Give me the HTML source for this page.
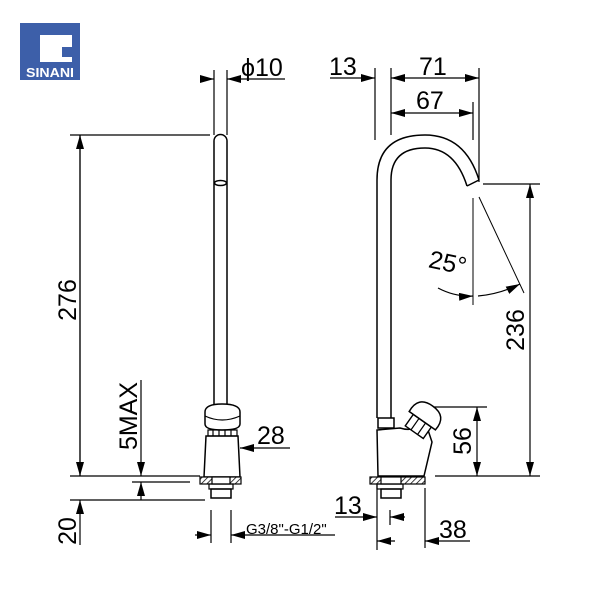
<!DOCTYPE html>
<html><head><meta charset="utf-8"><style>
html,body{margin:0;padding:0;background:#fff;}
svg{display:block}
text{font-family:"Liberation Sans",Arial,sans-serif;fill:#000}
</style></head><body>
<svg width="600" height="600" viewBox="0 0 600 600" xmlns="http://www.w3.org/2000/svg">
<defs>
<marker id="b" viewBox="0 0 14 8" refX="14" refY="4" markerWidth="14" markerHeight="8" orient="auto-start-reverse" markerUnits="userSpaceOnUse"><path d="M0,0L14,4L0,8z" fill="#000"/></marker>
<pattern id="h" width="4" height="4" patternUnits="userSpaceOnUse" patternTransform="rotate(45)"><rect width="4" height="4" fill="#fff"/><line x1="0" y1="0" x2="0" y2="4" stroke="#000" stroke-width="1.5"/></pattern>
</defs>
<rect x="20" y="23" width="60" height="57" fill="#3d5fa9"/>
<path d="M40,35 H72 V47 H62 V57 H72 V62 H40 Z" fill="#fff"/>
<text x="50" y="77" font-size="13" font-weight="bold" text-anchor="middle" style="fill:#fff" textLength="48" lengthAdjust="spacingAndGlyphs">SINANI</text>

<g stroke="#000" stroke-width="1.2" fill="none">
<line x1="214" y1="70" x2="214" y2="135"/><line x1="227" y1="70" x2="227" y2="135"/>
<line x1="200" y1="79" x2="214" y2="79" marker-end="url(#b)"/>
<line x1="285" y1="79" x2="227" y2="79" marker-end="url(#b)"/>
<path d="M214,405 V141 A6.5,6.5 0 0 1 227,141 V405" stroke-width="1.5"/>
<ellipse cx="220.5" cy="183" rx="6" ry="2.5" stroke-width="1.5"/>
<line x1="70" y1="135" x2="210" y2="135"/>
<line x1="80" y1="476" x2="80" y2="135" marker-end="url(#b)"/>
<line x1="80" y1="135" x2="80" y2="476" marker-end="url(#b)"/>
<line x1="70" y1="476" x2="200" y2="476"/>
<line x1="70" y1="500" x2="205" y2="500"/>
<line x1="80" y1="545" x2="80" y2="500" marker-end="url(#b)"/>
<line x1="141" y1="380" x2="141" y2="476" marker-end="url(#b)"/>
<line x1="132" y1="482" x2="190" y2="482"/>
<line x1="141" y1="500" x2="141" y2="482" marker-end="url(#b)"/>
<path d="M205,412 Q205,404 222,404 Q240,404 240,412 V424 Q240,430 222,430 Q205,430 205,424 Z" stroke-width="1.5" fill="#fff"/>
<path d="M205,416 Q222,424 240,416" />
<rect x="208" y="430" width="29" height="6" stroke-width="1.2"/>
<line x1="213" y1="430" x2="213" y2="436"/><line x1="219" y1="430" x2="219" y2="436"/><line x1="225" y1="430" x2="225" y2="436"/><line x1="231" y1="430" x2="231" y2="436"/>
<path d="M206,436 L204,477 H240 L238,436 Z" stroke-width="1.5"/>
<rect x="200" y="477" width="41" height="7" fill="url(#h)" stroke-width="1.2"/>
<rect x="212" y="477" width="18" height="7" fill="#fff"/>
<rect x="209" y="484" width="24" height="5"/>
<rect x="211" y="489" width="20" height="9" stroke-width="1.5"/>
<line x1="290" y1="448" x2="240" y2="448" marker-end="url(#b)"/>
<line x1="211" y1="510" x2="211" y2="543"/><line x1="231" y1="510" x2="231" y2="543"/>
<line x1="195" y1="535" x2="211" y2="535" marker-end="url(#b)"/>
<line x1="335" y1="535" x2="231" y2="535" marker-end="url(#b)"/>

<line x1="375" y1="68" x2="375" y2="140"/><line x1="391" y1="68" x2="391" y2="135"/>
<line x1="479" y1="68" x2="479" y2="182"/><line x1="473" y1="102" x2="473" y2="140"/>
<line x1="330" y1="78" x2="375" y2="78" marker-end="url(#b)"/>
<line x1="420" y1="78" x2="391" y2="78" marker-end="url(#b)"/>
<line x1="420" y1="78" x2="479" y2="78" marker-end="url(#b)"/>
<line x1="430" y1="113" x2="391" y2="113" marker-end="url(#b)"/>
<line x1="430" y1="113" x2="473" y2="113" marker-end="url(#b)"/>
<path d="M377,418 V180 Q377,135 425,135 Q465,135 479,180" stroke-width="1.5"/>
<path d="M391,418 V180 Q391,148 425,148 Q455,148 467,186" stroke-width="1.5"/>
<path d="M467,186 L479,180" stroke-width="1.5"/>
<line x1="483" y1="184" x2="540" y2="184"/>
<line x1="435" y1="476" x2="540" y2="476"/>
<line x1="530" y1="330" x2="530" y2="184" marker-end="url(#b)"/>
<line x1="530" y1="330" x2="530" y2="476" marker-end="url(#b)"/>
<line x1="473" y1="198" x2="473" y2="305" stroke-width="1"/>
<line x1="479" y1="197" x2="524" y2="293" stroke-width="1"/>
<path d="M438,288 Q455,297 473,296" marker-end="url(#b)"/>
<path d="M478,296 Q500,294 520,284" marker-end="url(#b)"/>
<line x1="425" y1="407" x2="487" y2="407"/>
<line x1="477" y1="440" x2="477" y2="407" marker-end="url(#b)"/>
<line x1="477" y1="440" x2="477" y2="476" marker-end="url(#b)"/>
<rect x="378" y="418" width="16" height="10" stroke-width="1.5"/>
<path d="M377,430 L378,476 H424 L432,442 L426,424 Q412,432 400,428 Z" stroke-width="1.5" fill="#fff"/>
<g transform="rotate(35 420 424)">
<rect x="409" y="420" width="22" height="14" stroke-width="1.4" fill="#fff"/>
<line x1="416" y1="420" x2="416" y2="434"/><line x1="424" y1="420" x2="424" y2="434"/>
<path d="M404,420 Q402,402 420,402 Q438,402 436,420 Z" stroke-width="1.5" fill="#fff"/>
</g>
<rect x="370" y="477" width="55" height="7" fill="url(#h)" stroke-width="1.2"/>
<rect x="381" y="477" width="20" height="7" fill="#fff"/>
<rect x="377" y="484" width="26" height="5"/>
<rect x="381" y="489" width="20" height="9" stroke-width="1.5"/>
<line x1="377" y1="485" x2="377" y2="550"/><line x1="390" y1="510" x2="390" y2="525"/>
<line x1="425" y1="488" x2="425" y2="548"/>
<line x1="335" y1="517" x2="377" y2="517" marker-end="url(#b)"/>
<line x1="405" y1="517" x2="390" y2="517" marker-end="url(#b)"/>
<line x1="395" y1="541" x2="377" y2="541" marker-end="url(#b)"/>
<line x1="470" y1="541" x2="425" y2="541" marker-end="url(#b)"/>
</g>

<g font-size="25">
<text x="241" y="76">ϕ10</text>
<text x="329" y="75">13</text>
<text x="419" y="75">71</text>
<text x="416" y="109">67</text>
<text x="257" y="444">28</text>
<text x="334" y="514">13</text>
<text x="439" y="538">38</text>
<text transform="translate(76,300) rotate(-90)" text-anchor="middle">276</text>
<text transform="translate(137,416) rotate(-90)" text-anchor="middle">5MAX</text>
<text transform="translate(76,531) rotate(-90)" text-anchor="middle">20</text>
<text transform="translate(524,330) rotate(-90)" text-anchor="middle">236</text>
<text transform="translate(471,441) rotate(-90)" text-anchor="middle">56</text>
<text transform="translate(446,271) rotate(12)" text-anchor="middle">25°</text>
</g>
<text x="246" y="534" font-size="15">G3/8"-G1/2"</text>
</svg>
</body></html>
